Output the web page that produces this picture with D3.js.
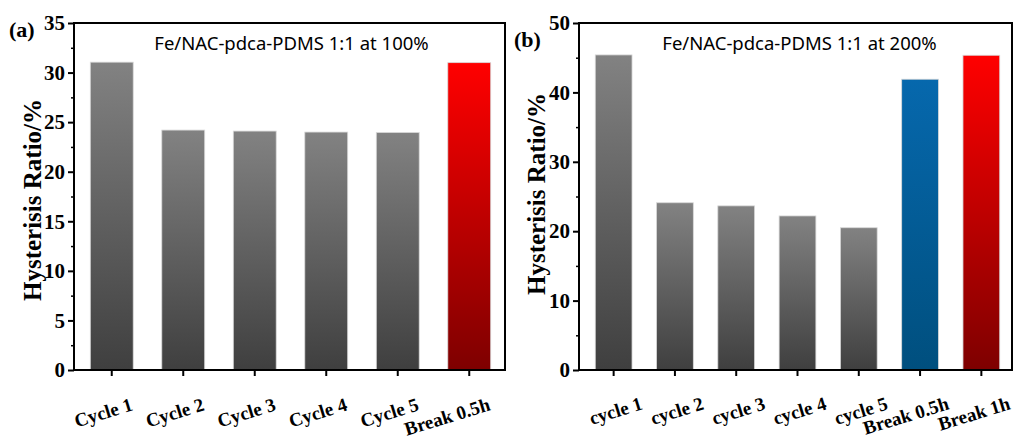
<!DOCTYPE html>
<html>
<head>
<meta charset="utf-8">
<title>Hysterisis Ratio</title>
<style>
  body { margin: 0; background: #fff; }
  svg { display: block; }
</style>
</head>
<body>
<script src="https://d3js.org/d3.v7.min.js"></script>
<script>
// panel (a)
var catsA = ["Cycle 1", "Cycle 2", "Cycle 3", "Cycle 4", "Cycle 5", "Break 0.5h"];
var valsA = [31.05, 24.2, 24.1, 24.0, 23.95, 31.0];
var colorsA = ["gray", "gray", "gray", "gray", "gray", "red"];
var ticksA = [0, 5, 10, 15, 20, 25, 30, 35];

// panel (b)
var catsB = ["cycle 1", "cycle 2", "cycle 3", "cycle 4", "cycle 5", "Break 0.5h", "Break 1h"];
var valsB = [45.4, 24.1, 23.65, 22.2, 20.5, 41.9, 45.35];
var colorsB = ["gray", "gray", "gray", "gray", "gray", "blue", "red"];
var ticksB = [0, 10, 20, 30, 40, 50];

var svg = d3.select("body").append("svg")
    .attr("width", 1023)
    .attr("height", 440);

var defs = svg.append("defs");
var grads = {
  gray: ["#828282", "#3f3f3f"],
  red:  ["#ff0000", "#7e0000"],
  blue: ["#0668ad", "#004f7e"]
};
Object.keys(grads).forEach(function(k){
  var g = defs.append("linearGradient")
      .attr("id", "g-" + k)
      .attr("x1", 0).attr("y1", 0).attr("x2", 0).attr("y2", 1);
  g.append("stop").attr("offset", "0%").attr("stop-color", grads[k][0]);
  g.append("stop").attr("offset", "100%").attr("stop-color", grads[k][1]);
});

var serif = "Liberation Serif, Times New Roman, serif";

function panel(opt) {
  var x0 = opt.left, x1 = opt.right, y0 = 370, y1 = 23;

  var y = d3.scaleLinear().domain([0, opt.max]).range([y0, y1]);
  var x = d3.scaleBand().domain(opt.cats).range([x0 + opt.shift, x1]).paddingInner(0.4).paddingOuter(0.2);

  var g = svg.append("g");

  g.selectAll(".bar")
      .data(opt.vals)
      .enter()
      .append("rect")
      .attr("class", "bar")
      .attr("x", function(d, i){ return x(opt.cats[i]); })
      .attr("y", function(d){ return y(d); })
      .attr("width", x.bandwidth())
      .attr("height", function(d){ return y0 - y(d); })
      .attr("fill", function(d, i){ return "url(#g-" + opt.colors[i] + ")"; })
      .attr("stroke", "#d8d8d8")
      .attr("stroke-width", 0.8);

  // minor ticks
  var minor = [];
  for (var i = 0; i < opt.ticks.length - 1; i++) minor.push((opt.ticks[i] + opt.ticks[i + 1]) / 2);
  g.append("g")
      .attr("transform", "translate(" + x0 + ",0)")
      .call(d3.axisLeft(y).tickValues(minor).tickSize(3).tickFormat(""))
      .call(function(a){ a.select(".domain").remove(); a.selectAll("line").attr("stroke-width", 1.5); });

  // y axis
  g.append("g")
      .attr("transform", "translate(" + x0 + ",0)")
      .call(d3.axisLeft(y).tickValues(opt.ticks).tickSize(6).tickSizeOuter(0).tickPadding(3))
      .call(function(a){
        a.select(".domain").remove();
        a.selectAll("line").attr("stroke-width", 2);
        a.selectAll("text")
          .attr("font-family", serif)
          .attr("font-weight", "bold")
          .attr("font-size", "21px")
          .attr("fill", "#000");
      });

  // x axis
  g.append("g")
      .attr("transform", "translate(0," + y0 + ")")
      .call(d3.axisBottom(x).tickSize(6).tickSizeOuter(0))
      .call(function(a){
        a.select(".domain").remove();
        a.selectAll("line").attr("stroke-width", 2);
        a.selectAll("text")
          .attr("font-family", serif)
          .attr("font-weight", "bold")
          .attr("font-size", "19px")
          .attr("fill", "#000")
          .attr("text-anchor", "end")
          .attr("dy", null)
          .attr("y", 0)
          .attr("transform", "translate(" + opt.lblDx + "," + opt.lblDy + ") rotate(-17)");
      });

  // frame
  g.append("rect")
      .attr("x", x0).attr("y", y1)
      .attr("width", x1 - x0).attr("height", y0 - y1)
      .attr("fill", "none")
      .attr("stroke", "#000")
      .attr("stroke-width", 2);

  // title
  g.append("text")
      .attr("x", (x0 + x1) / 2 + opt.titleDx)
      .attr("y", 50)
      .attr("text-anchor", "middle")
      .attr("font-family", "Noto Sans, Open Sans, sans-serif")
      .attr("font-size", "18.5px")
      .text(opt.title);

  // axis title
  g.append("text")
      .attr("transform", "translate(" + opt.axTitleX + "," + opt.axTitleY + ") rotate(-90)")
      .attr("text-anchor", "middle")
      .attr("font-family", serif)
      .attr("font-weight", "bold")
      .attr("font-size", "25px")
      .text("Hysterisis Ratio/%");

  // panel label
  g.append("text")
      .attr("x", opt.labelX)
      .attr("y", opt.labelY)
      .attr("font-family", serif)
      .attr("font-weight", "bold")
      .attr("font-size", "22px")
      .text(opt.label);
}

panel({
  cats: catsA, vals: valsA, colors: colorsA, ticks: ticksA, max: 35,
  left: 74, right: 505, shift: 2,
  title: "Fe/NAC-pdca-PDMS 1:1 at 100%", titleDx: 2,
  label: "(a)", labelX: 9, labelY: 37, axTitleX: 41, axTitleY: 200,
  lblDx: 22, lblDy: 40
});

panel({
  cats: catsB, vals: valsB, colors: colorsB, ticks: ticksB, max: 50,
  left: 579, right: 1012, shift: 4,
  title: "Fe/NAC-pdca-PDMS 1:1 at 200%", titleDx: 4,
  label: "(b)", labelX: 514, labelY: 47, axTitleX: 545, axTitleY: 194,
  lblDx: 30, lblDy: 39
});
</script>
</body>
</html>
